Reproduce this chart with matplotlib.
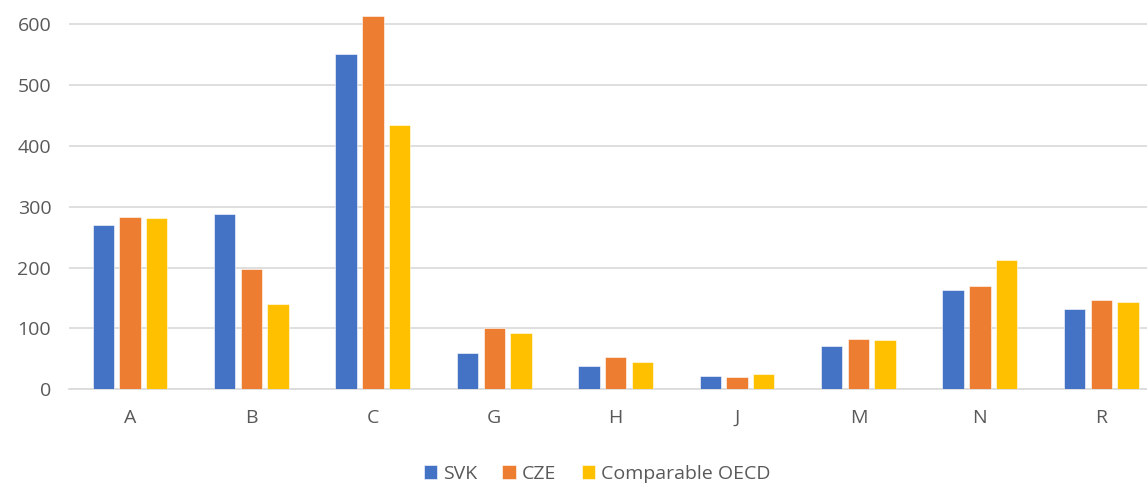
import matplotlib
matplotlib.use("Agg")
import matplotlib.pyplot as plt
import numpy as np

categories = ["A", "B", "C", "G", "H", "J", "M", "N", "R"]
svk = [270, 288, 551, 59, 38, 22, 71, 164, 132]
cze = [283, 198, 613, 101, 53, 20, 82, 170, 147]
oecd = [282, 141, 434, 92, 45, 25, 81, 213, 143]
series_names = ["SVK", "CZE", "Comparable OECD"]
yticks = [0, 100, 200, 300, 400, 500, 600]

colors = ["#4472C4", "#ED7D31", "#FFC000"]
plt.rcParams["font.family"] = ["Open Sans", "DejaVu Sans"]

fig = plt.figure(figsize=(11.47, 4.84), dpi=100)
ax = fig.add_axes([69.3 / 1147, 1 - 389.3 / 484, (1162 - 69.3) / 1147, 389.3 / 484])

x = np.arange(len(categories))
pitch = 0.22
width = 0.176
for i, (vals, name, c) in enumerate(zip([svk, cze, oecd], series_names, colors)):
    ax.bar(x + (i - 1) * pitch, vals, width, color=c, label=name,
           edgecolor="white", linewidth=0.4, zorder=3)

ax.set_xlim(-0.5, len(categories) - 0.5)
ax.set_ylim(0, 640)
ax.set_yticks(yticks)
ax.set_xticks(x)
ax.set_xticklabels(categories)
ax.grid(axis="y", color="#D9D9D9", linewidth=1.2, zorder=0)
ax.set_axisbelow(True)
for s in ["top", "right", "left"]:
    ax.spines[s].set_visible(False)
ax.spines["bottom"].set_color("#D9D9D9")
ax.spines["bottom"].set_linewidth(1.2)
ax.tick_params(axis="both", length=0, labelsize=14, colors="#595959")
ax.tick_params(axis="x", pad=14)
ax.tick_params(axis="y", pad=13)

leg = fig.legend(loc="center", bbox_to_anchor=(597 / 1147, 1 - 474 / 484), ncol=3,
                 frameon=False, fontsize=14, handlelength=0.7, handleheight=0.7,
                 handletextpad=0.3, columnspacing=1.3, labelcolor="#595959")

fig.savefig("out.png", dpi=100)
